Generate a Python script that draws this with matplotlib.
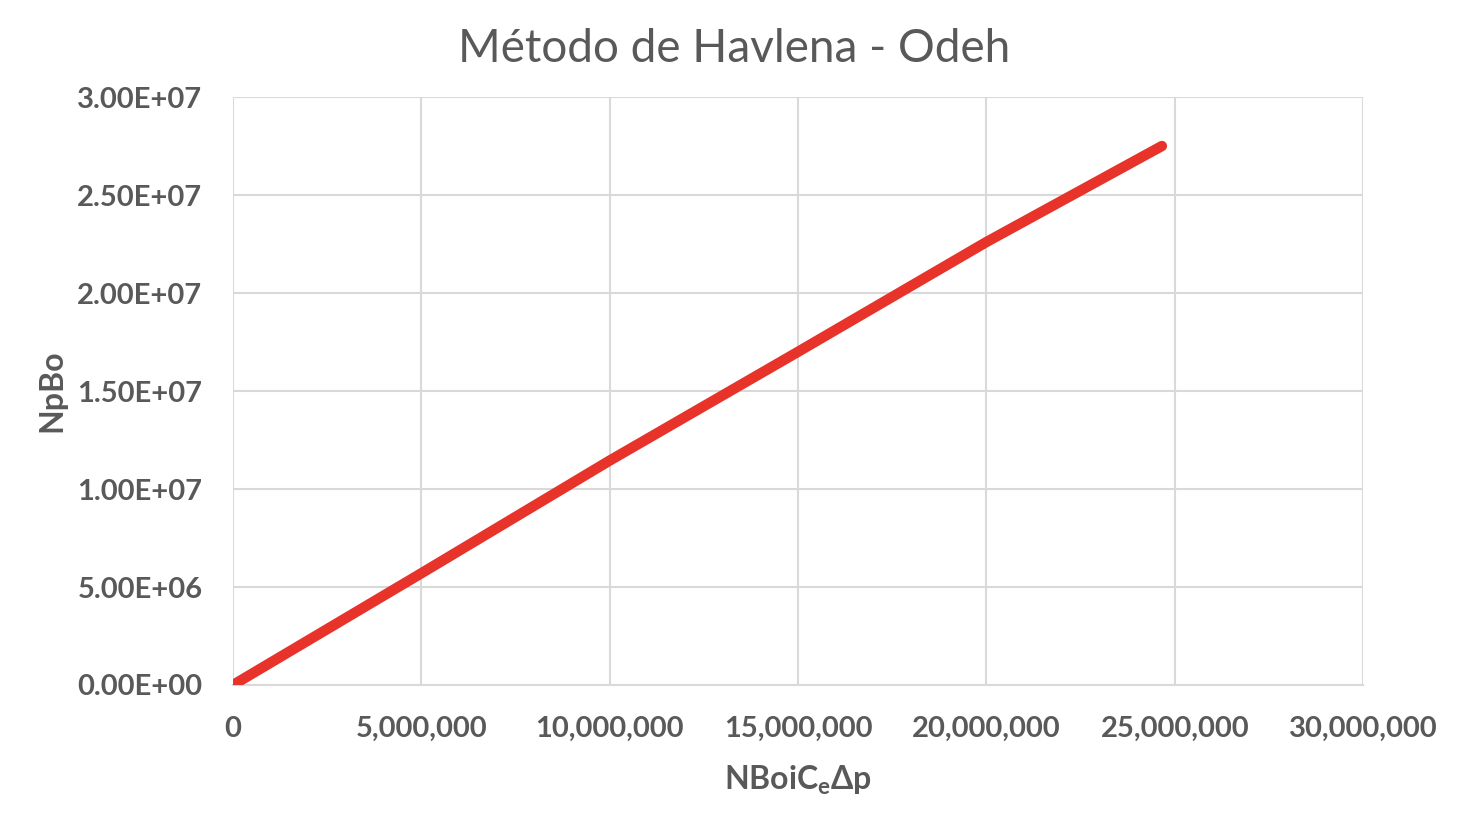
import matplotlib
matplotlib.use("Agg")
import matplotlib.pyplot as plt
from matplotlib.ticker import FuncFormatter, MultipleLocator

# values
x_vals = [0, 5.0e6, 10.0e6, 15.0e6, 20.0e6, 24.66e6]
y_vals = [0, 5.70e6, 1.145e7, 1.70e7, 2.26e7, 2.75e7]

title = "Método de Havlena - Odeh"
x_label = "NBoiC$_\\mathregular{e}$Δp"
y_label = "NpBo"

gray = "#595959"
plt.rcParams["font.family"] = ["Lato", "DejaVu Sans"]

fig = plt.figure(figsize=(14.68, 8.30), dpi=100)
ax = fig.add_axes([0.1587, 0.1747, 0.9285 - 0.1587, 0.8831 - 0.1747])

ax.plot(x_vals, y_vals, color="#e8332a", linewidth=7.5, solid_capstyle="round", zorder=3)

ax.set_xlim(0, 3.0e7)
ax.set_ylim(0, 3.0e7)
ax.xaxis.set_major_locator(MultipleLocator(5e6))
ax.yaxis.set_major_locator(MultipleLocator(5e6))
ax.xaxis.set_major_formatter(FuncFormatter(lambda v, p: f"{v:,.0f}"))
ax.yaxis.set_major_formatter(FuncFormatter(lambda v, p: f"{v:.2E}"))

ax.grid(True, color="#d9d9d9", linewidth=1.5, zorder=0)
for s in ["top", "right", "left"]:
    ax.spines[s].set_visible(False)
ax.spines["bottom"].set_color("#d9d9d9")
ax.spines["bottom"].set_linewidth(1.5)
ax.tick_params(length=0, colors=gray, labelsize=21)
for lbl in ax.get_xticklabels() + ax.get_yticklabels():
    lbl.set_fontweight("bold")
ax.tick_params(axis="x", pad=22)
ax.tick_params(axis="y", pad=22)

fig.text(0.5, 1 - 49 / 830, title, fontsize=33, color=gray, ha="center", va="center")
ax.set_xlabel(x_label, fontsize=23, color=gray, fontweight="bold", labelpad=16)
ax.set_ylabel(y_label, fontsize=23, color=gray, fontweight="bold", labelpad=8)

fig.savefig("out.png", dpi=100, facecolor="white")
